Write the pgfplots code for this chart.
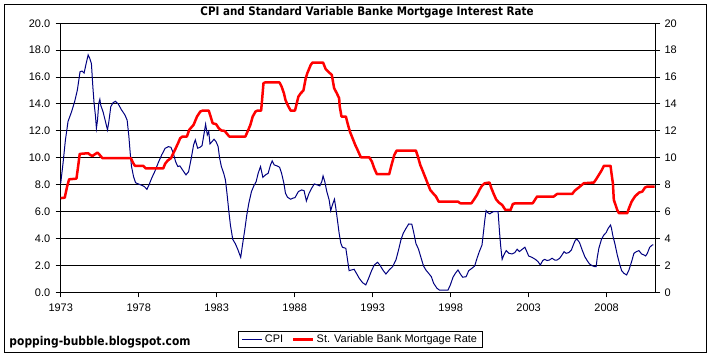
\documentclass[border=0pt]{standalone}
\usepackage{fontspec}
\setmainfont{Liberation Sans}
\newfontfamily\titlefont[FakeStretch=0.88]{DejaVu Sans}
\usepackage{pgfplots}
\usepackage{pgfplotstable}
\pgfplotsset{compat=1.18}
\definecolor{cpiblue}{RGB}{0,0,128}
\definecolor{mortred}{RGB}{255,0,0}

\pgfplotstableread{
year val
1973.00 8.1
1973.15 9.6
1973.30 11.3
1973.47 12.7
1973.69 13.4
1973.90 14.2
1974.07 15.05
1974.24 16.4
1974.37 16.45
1974.50 16.3
1974.63 17.0
1974.76 17.65
1974.86 17.4
1974.97 17.0
1975.06 15.3
1975.14 14.06
1975.23 13.1
1975.29 12.2
1975.36 12.8
1975.44 14.06
1975.51 14.35
1975.57 13.9
1975.72 13.4
1975.87 12.7
1976.00 12.07
1976.09 12.7
1976.21 13.8
1976.36 14.1
1976.51 14.2
1976.69 14.0
1976.90 13.56
1977.11 13.2
1977.26 12.8
1977.37 11.6
1977.46 10.3
1977.54 9.35
1977.67 8.6
1977.80 8.15
1977.97 8.06
1978.19 7.96
1978.36 7.86
1978.53 7.66
1978.66 7.98
1978.83 8.48
1979.04 9.0
1979.26 9.65
1979.47 10.2
1979.69 10.7
1979.90 10.83
1980.07 10.78
1980.22 10.34
1980.37 9.7
1980.51 9.35
1980.64 9.4
1980.81 9.1
1981.03 8.73
1981.20 8.97
1981.37 9.97
1981.52 10.96
1981.63 11.33
1981.78 10.71
1981.93 10.78
1982.06 10.9
1982.16 11.58
1982.29 12.5
1982.40 11.7
1982.49 11.95
1982.57 11.03
1982.70 11.2
1982.83 11.38
1982.96 11.2
1983.09 10.84
1983.19 9.97
1983.30 9.35
1983.45 8.85
1983.56 8.36
1983.66 7.36
1983.77 6.12
1983.88 5.0
1984.03 3.94
1984.20 3.6
1984.35 3.2
1984.54 2.6
1984.67 3.64
1984.80 4.64
1984.93 5.75
1985.06 6.62
1985.23 7.49
1985.38 7.91
1985.53 8.23
1985.66 8.85
1985.81 9.35
1985.96 8.55
1986.13 8.73
1986.30 8.85
1986.45 9.47
1986.56 9.77
1986.69 9.47
1986.86 9.4
1987.03 9.3
1987.16 8.85
1987.31 8.1
1987.41 7.36
1987.54 7.07
1987.74 6.92
1987.89 7.0
1988.02 7.04
1988.24 7.49
1988.45 7.61
1988.60 7.56
1988.75 6.79
1988.92 7.36
1989.09 7.74
1989.26 8.06
1989.46 7.98
1989.61 7.91
1989.74 8.23
1989.82 8.65
1989.93 8.23
1990.06 7.49
1990.21 6.87
1990.31 6.07
1990.42 6.5
1990.55 6.92
1990.64 6.25
1990.74 5.38
1990.85 4.39
1990.96 3.64
1991.06 3.35
1991.28 3.27
1991.39 2.4
1991.49 1.61
1991.64 1.66
1991.81 1.71
1991.96 1.41
1992.14 1.04
1992.35 0.72
1992.56 0.55
1992.74 1.04
1992.93 1.61
1993.10 2.03
1993.31 2.23
1993.46 2.03
1993.68 1.61
1993.85 1.36
1994.06 1.66
1994.28 1.91
1994.49 2.4
1994.66 3.15
1994.81 3.89
1994.96 4.39
1995.14 4.76
1995.31 5.08
1995.51 5.06
1995.62 4.51
1995.77 3.64
1995.94 3.2
1996.11 2.53
1996.26 1.96
1996.41 1.66
1996.59 1.41
1996.76 1.16
1996.91 0.67
1997.12 0.3
1997.27 0.17
1997.83 0.17
1997.98 0.55
1998.15 1.12
1998.30 1.41
1998.47 1.66
1998.62 1.36
1998.77 1.12
1998.99 1.16
1999.16 1.61
1999.37 1.79
1999.54 1.96
1999.69 2.53
1999.84 3.03
2000.01 3.52
2000.12 4.64
2000.19 5.38
2000.27 6.07
2000.38 5.92
2000.51 5.83
2000.61 5.92
2000.76 6.0
2001.04 6.0
2001.13 4.51
2001.21 3.4
2001.30 2.45
2001.41 2.78
2001.56 3.1
2001.73 2.9
2001.94 2.85
2002.11 2.95
2002.26 3.2
2002.41 3.03
2002.59 3.2
2002.76 3.35
2002.91 2.95
2003.00 2.7
2003.21 2.6
2003.43 2.45
2003.60 2.28
2003.75 2.03
2003.90 2.36
2004.03 2.45
2004.18 2.36
2004.33 2.4
2004.50 2.53
2004.67 2.4
2004.82 2.4
2004.99 2.53
2005.14 2.78
2005.27 3.02
2005.40 2.9
2005.57 2.95
2005.74 3.15
2005.89 3.6
2006.00 3.89
2006.11 3.94
2006.26 3.7
2006.43 3.15
2006.60 2.65
2006.75 2.36
2006.90 2.11
2007.07 1.98
2007.24 1.91
2007.33 1.91
2007.39 2.53
2007.50 3.27
2007.67 3.94
2007.82 4.26
2007.97 4.44
2008.10 4.76
2008.25 5.0
2008.31 4.76
2008.40 4.19
2008.53 3.6
2008.68 2.78
2008.83 2.11
2008.96 1.61
2009.11 1.41
2009.28 1.29
2009.43 1.66
2009.60 2.28
2009.75 2.9
2009.90 3.02
2010.07 3.1
2010.24 2.85
2010.39 2.78
2010.50 2.7
2010.61 2.9
2010.76 3.35
2010.93 3.52
2011.00 3.52
}\cpidata

\pgfplotstableread{
year val
1973.00 7.0
1973.26 7.04
1973.41 7.86
1973.54 8.4
1974.01 8.45
1974.11 9.3
1974.22 10.29
1974.76 10.34
1974.91 10.2
1975.04 10.14
1975.19 10.26
1975.36 10.39
1975.51 10.2
1975.68 9.97
1977.50 9.97
1977.65 9.6
1977.76 9.4
1978.29 9.4
1978.44 9.22
1979.58 9.22
1979.69 9.55
1979.86 9.8
1980.07 9.97
1980.22 10.34
1980.37 10.7
1980.54 11.13
1980.66 11.46
1980.81 11.58
1981.09 11.58
1981.24 12.08
1981.52 12.45
1981.74 13.07
1981.95 13.44
1982.10 13.51
1982.49 13.51
1982.61 13.07
1982.74 12.57
1982.96 12.5
1983.13 12.2
1983.30 12.03
1983.51 12.0
1983.66 11.78
1983.81 11.58
1984.84 11.58
1985.01 12.03
1985.16 12.45
1985.31 13.07
1985.49 13.44
1985.61 13.51
1985.85 13.51
1985.91 14.3
1986.00 15.55
1986.09 15.6
1987.03 15.6
1987.16 15.3
1987.31 14.8
1987.41 14.3
1987.56 13.9
1987.74 13.51
1988.02 13.51
1988.11 13.94
1988.24 14.55
1988.39 14.8
1988.56 15.0
1988.71 15.92
1988.81 16.29
1989.03 16.91
1989.14 17.08
1989.82 17.08
1989.99 16.59
1990.21 16.34
1990.38 16.17
1990.53 15.17
1990.70 14.8
1990.85 14.43
1990.89 13.81
1991.00 13.07
1991.28 13.07
1991.39 12.57
1991.54 11.95
1991.71 11.46
1991.88 10.96
1992.03 10.59
1992.24 10.04
1992.78 10.04
1992.95 9.72
1993.10 9.22
1993.27 8.78
1994.06 8.78
1994.21 9.47
1994.39 10.22
1994.54 10.54
1995.77 10.54
1995.90 10.09
1996.05 9.47
1996.20 9.05
1996.37 8.55
1996.52 8.11
1996.69 7.61
1996.91 7.31
1997.06 7.12
1997.23 6.74
1998.47 6.74
1998.62 6.62
1999.33 6.62
1999.48 6.87
1999.69 7.24
1999.84 7.61
2000.01 7.93
2000.19 8.11
2000.49 8.16
2000.61 7.74
2000.76 7.31
2000.91 6.92
2001.09 6.67
2001.30 6.5
2001.51 6.12
2001.84 6.12
2001.99 6.57
2002.16 6.62
2003.26 6.62
2003.54 7.12
2004.61 7.12
2004.82 7.31
2005.79 7.31
2005.96 7.56
2006.21 7.79
2006.54 8.11
2007.18 8.16
2007.33 8.41
2007.50 8.73
2007.67 9.05
2007.82 9.4
2008.25 9.4
2008.31 8.85
2008.40 8.11
2008.46 6.87
2008.57 6.5
2008.68 6.12
2008.79 5.88
2009.32 5.88
2009.43 6.25
2009.60 6.74
2009.81 7.12
2010.07 7.41
2010.29 7.49
2010.46 7.79
2010.61 7.86
2011.08 7.86
}\mortdata

\pgfplotsset{
  commonaxis/.style={
    at={(60.7bp,71.7bp)}, anchor=south west,
    scale only axis, width=594.3bp, height=269bp,
    xmin=1973, xmax=2011.1, ymin=0, ymax=20,
    ytick={0,2,...,20},
    tick align=outside, major tick length=5bp,
    axis line style={black, line width=1bp},
    major tick style={black, line width=1bp},
    tick label style={font=\fontsize{11}{13}\selectfont, black},
    /pgf/number format/assume math mode=true,
    clip=false,
  }
}

\begin{document}
\begin{tikzpicture}
\useasboundingbox (0,0) rectangle (712bp,364bp);
\fill[white] (0,0) rectangle (712bp,364bp);
\draw[black, line width=1bp] (4.7bp,11bp) rectangle (706bp,359.3bp);

\begin{axis}[commonaxis,
  axis y line*=left, axis x line*=bottom,
  xtick={1973,1978,...,2008},
  xticklabel={\pgfmathprintnumber[int detect,1000 sep={}]{\tick}},
  yticklabel={\pgfmathprintnumber[fixed,fixed zerofill,precision=1]{\tick}},
  ymajorgrids, grid style={black, line width=1bp},
  xticklabel style={yshift=-3bp},
  yticklabel style={xshift=-2bp},
  legend columns=2,
  legend style={at={(axis description cs:0.5045,-0.1747)}, anchor=center,
    draw=black, line width=1bp, inner xsep=3bp, inner ysep=1.5bp,
    font=\fontsize{11}{13}\selectfont,
    /tikz/every even column/.append style={column sep=7bp}},
  legend image code/.code={\draw[#1] (0bp,0bp) -- (20bp,0bp);},
]
\addplot[cpiblue, line width=1bp, sharp plot, mark=none] table[x=year,y=val] {\cpidata};
\addlegendentry{CPI}
\addplot[mortred, line width=2.5bp, sharp plot, mark=none, line join=round] table[x=year,y=val] {\mortdata};
\addlegendentry{St. Variable Bank Mortgage Rate}
\end{axis}

\begin{axis}[commonaxis,
  axis y line*=right, axis x line=none,
  yticklabel={\pgfmathprintnumber[int detect]{\tick}},
  yticklabel style={xshift=1bp},
]
\addplot[draw=none, forget plot] coordinates {(1973,0)};
\end{axis}

\node[anchor=base, inner sep=0pt] at (367bp,348.3bp)
  {\titlefont\bfseries\fontsize{11.8}{14}\selectfont CPI and Standard Variable Banke Mortgage Interest Rate};
\node[anchor=base west, inner sep=0pt] at (9.3bp,19bp)
  {\titlefont\bfseries\fontsize{12.2}{14}\selectfont popping-bubble.blogspot.com};
\end{tikzpicture}
\end{document}
